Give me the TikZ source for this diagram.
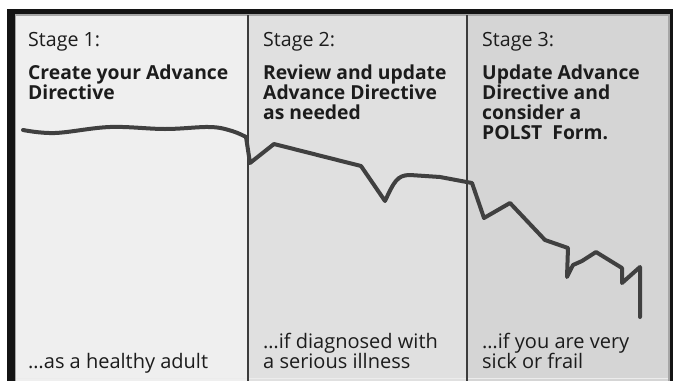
\documentclass[tikz,border=0pt]{standalone}
\usepackage{fontspec}
\setmainfont{Open Sans}
\definecolor{pone}{HTML}{EFEFEF}
\definecolor{ptwo}{HTML}{E0E0E0}
\definecolor{pthree}{HTML}{D5D5D5}
\definecolor{framec}{HTML}{141414}
\definecolor{divc}{HTML}{3C3C3C}
\definecolor{curvec}{HTML}{404040}
\definecolor{txtc}{HTML}{1C1C1C}
\begin{document}
\begin{tikzpicture}[x=1pt,y=-1pt,
  stagelbl/.style={anchor=base west,inner sep=0pt,text=txtc,font=\fontsize{19.6}{20}\selectfont},
  titlelbl/.style={anchor=base west,inner sep=0pt,text=txtc,font=\fontsize{19.3}{20}\selectfont\bfseries},
  notelbl/.style={anchor=base west,inner sep=0pt,text=txtc,font=\fontsize{20}{20}\selectfont},
  divline/.style={draw=divc,line width=2pt},
  trend/.style={draw=curvec,line width=4pt,line join=round,line cap=round}]
\useasboundingbox (0,0) rectangle (673,381);
\fill[white] (0,0) rectangle (673,381);
\fill[framec] (7,9) rectangle (673,381);
\fill[gray!70] (15,14) rectangle (670,381);
% panels
\fill[pone] (16,16) rectangle (248,381);
\fill[ptwo] (248,16) rectangle (467,381);
\fill[pthree] (467,16) rectangle (668,381);
\draw[white!85!gray,line width=1pt] (16,378) -- (668,378);
\draw[divline] (248,15) -- (248,381);
\draw[divline] (467,15) -- (467,381);
% stage 1
\node[stagelbl] (s1) at (28,46) {Stage 1:};
\node[titlelbl] (t1a) at (28,79) {Create your Advance};
\node[titlelbl] (t1b) at (28,99) {Directive};
\node[notelbl] (n1) at (28,368) {…as a healthy adult};
% stage 2
\node[stagelbl] (s2) at (263,46) {Stage 2:};
\node[titlelbl] (t2a) at (263,79) {Review and update};
\node[titlelbl] (t2b) at (263,99) {Advance Directive};
\node[titlelbl] (t2c) at (263,119) {as needed};
\node[notelbl] (n2a) at (263,348) {…if diagnosed with};
\node[notelbl] (n2b) at (263,368) {a serious illness};
% stage 3
\node[stagelbl] (s3) at (482,46) {Stage 3:};
\node[titlelbl] (t3a) at (482,79) {Update Advance};
\node[titlelbl] (t3b) at (482,99) {Directive and};
\node[titlelbl] (t3c) at (482,119) {consider a};
\node[titlelbl] (t3d) at (482,139) {POLST\ \ Form.};
\node[notelbl] (n3a) at (482,348) {…if you are very};
\node[notelbl] (n3b) at (482,368) {sick or frail};
% trend line
\draw[trend] plot[smooth,tension=0.6] coordinates {(23,130) (55,133) (110,127) (165,129) (210,127) (232,131) (246,137)}
  -- (250,163) -- (274,144) -- (361,166) -- (385,201)
  .. controls (394,182) and (397,175) .. (410,175)
  -- (440,177) -- (472,183) -- (484,218) -- (510,203) -- (545,240) -- (568,248)
  -- (567,277) -- (573,265) -- (582,261) -- (596,252) -- (622,268) -- (622,283)
  -- (640,267) -- (640,317);
\end{tikzpicture}
\end{document}
